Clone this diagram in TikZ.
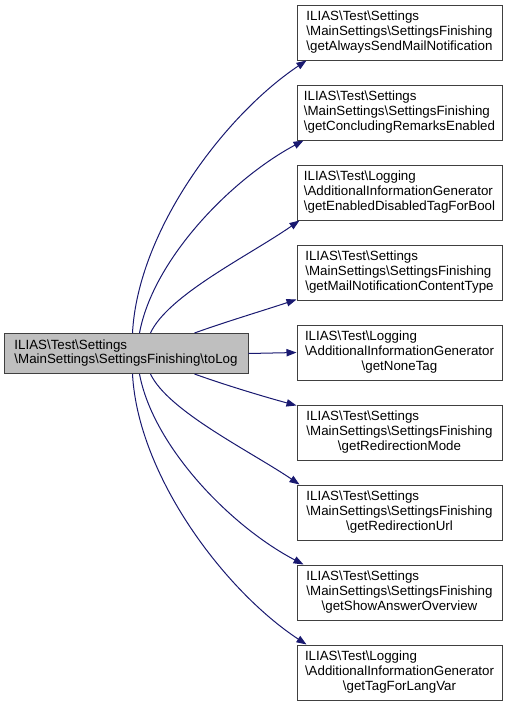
\documentclass[tikz,border=0pt]{standalone}
\usepackage{fontspec}
\setmainfont{Liberation Sans}
\usetikzlibrary{arrows.meta,calc}
\definecolor{edgeblue}{HTML}{191970}
\definecolor{boxborder}{HTML}{404040}
\definecolor{curfill}{HTML}{BFBFBF}
\newcommand{\bs}{\textbackslash}
\newcommand{\lblthree}[3]{\begin{tabular}{@{}l@{}}#1\\#2\\\multicolumn{1}{@{}c@{}}{#3}\end{tabular}}
\newcommand{\lbltwo}[2]{\begin{tabular}{@{}l@{}}#1\\\multicolumn{1}{@{}c@{}}{#2}\end{tabular}}
\tikzset{
  fn/.style={draw=boxborder, line width=0.75pt, fill=white, inner sep=0pt,
    minimum width=153.75pt, minimum height=41.25pt,
    font=\fontsize{10}{11}\selectfont},
  cur/.style={fn, fill=curfill, minimum width=183pt, minimum height=30pt},
  edge/.style={draw=edgeblue, line width=0.75pt, -{Triangle[length=7.5pt,width=5.5pt]}}
}
\begin{document}
\begin{tikzpicture}[x=0.75pt,y=-0.75pt]
\useasboundingbox (0,0) rectangle (511,707);
\node[cur] (L) at (126,353.5) {\lbltwo{ILIAS\bs Test\bs Settings}{\bs MainSettings\bs SettingsFinishing\bs toLog}};
\node[fn] (R1) at (399.5,32.5) {\lblthree{ILIAS\bs Test\bs Settings}{\bs MainSettings\bs SettingsFinishing}{\bs getAlwaysSendMailNotification}};
\node[fn] (R2) at (399.5,112.5) {\lblthree{ILIAS\bs Test\bs Settings}{\bs MainSettings\bs SettingsFinishing}{\bs getConcludingRemarksEnabled}};
\node[fn] (R3) at (399.5,192.5) {\lblthree{ILIAS\bs Test\bs Logging}{\bs AdditionalInformationGenerator}{\bs getEnabledDisabledTagForBool}};
\node[fn] (R4) at (399.5,272.5) {\lblthree{ILIAS\bs Test\bs Settings}{\bs MainSettings\bs SettingsFinishing}{\bs getMailNotificationContentType}};
\node[fn] (R5) at (399.5,352.5) {\lblthree{ILIAS\bs Test\bs Logging}{\bs AdditionalInformationGenerator}{\bs getNoneTag}};
\node[fn] (R6) at (399.5,432.5) {\lblthree{ILIAS\bs Test\bs Settings}{\bs MainSettings\bs SettingsFinishing}{\bs getRedirectionMode}};
\node[fn] (R7) at (399.5,512.5) {\lblthree{ILIAS\bs Test\bs Settings}{\bs MainSettings\bs SettingsFinishing}{\bs getRedirectionUrl}};
\node[fn] (R8) at (399.5,592.5) {\lblthree{ILIAS\bs Test\bs Settings}{\bs MainSettings\bs SettingsFinishing}{\bs getShowAnswerOverview}};
\node[fn] (R9) at (399.5,672.5) {\lblthree{ILIAS\bs Test\bs Logging}{\bs AdditionalInformationGenerator}{\bs getTagForLangVar}};
% upper edges
\draw[edge] ($(L.north west)+(129,0)$) .. controls (138,230) and (225,115) .. ($(R1.south west)+(10,0)$);
\draw[edge] ($(L.north west)+(136,0)$) .. controls (153,260) and (230,180) .. ($(R2.south west)+(7,0)$);
\draw[edge] ($(L.north west)+(147,0)$) .. controls (168,295) and (250,255) .. ($(R3.south west)+(3,0)$);
\draw[edge] ($(L.north west)+(191,0)$) .. controls (225,322) and (265,310) .. ($(R4.south west)+(0,-1)$);
\draw[edge] (L.east) -- (R5.west);
% lower edges
\draw[edge] ($(L.south west)+(191,0)$) .. controls (225,385) and (265,397) .. ($(R6.north west)+(0,1)$);
\draw[edge] ($(L.south west)+(147,0)$) .. controls (168,411) and (250,451) .. ($(R7.north west)+(3,0)$);
\draw[edge] ($(L.south west)+(136,0)$) .. controls (153,446) and (230,526) .. ($(R8.north west)+(7,0)$);
\draw[edge] ($(L.south west)+(129,0)$) .. controls (138,476) and (225,591) .. ($(R9.north west)+(10,0)$);
\end{tikzpicture}
\end{document}
